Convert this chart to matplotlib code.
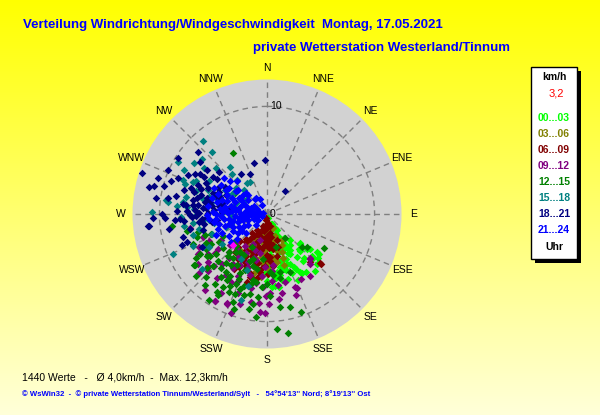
import matplotlib.pyplot as plt
import numpy as np
from matplotlib.patches import Rectangle

# wind points per hour block: (direction in degrees, speed in km/h)
h00_03 = [(151, 1.5), (153, 2.4), (149, 3.6), (132, 4.1), (131, 4.9), (128, 6.1), (133, 5.7),
          (150, 4.3), (160, 4.4), (168, 4.4), (176, 3.8), (168, 3.0), (180, 3.2), (145, 4.9),
          (153, 5.5), (150, 6.2), (161, 5.5), (166, 5.1), (155, 5.1), (170, 5.5), (182, 5.5),
          (176, 6.8), (174, 6.7), (167, 6.3), (186, 4.5), (163, 3.7), (156, 3.7), (139, 3.2),
          (172, 2.0), (153, 1.0), (170, 0.4), (131, 4.1), (131, 6.3), (149, 6.4), (151, 4.1),
          (163, 5.3), (171, 6.9), (134, 5.9), (147, 4.0), (158, 3.3), (160, 1.0), (175, 1.2),
          (145, 2.7), (140, 5.3), (157, 6.0), (165, 2.2), (138, 4.6), (178, 4.8),
          (144, 3.6), (137, 4.4), (142, 5.5), (135, 6.6), (146, 6.5), (152, 5.8), (158, 5.0),
          (163, 4.6), (170, 4.4), (174, 3.4), (160, 2.6), (155, 2.0), (148, 1.8), (165, 1.5),
          (178, 2.4), (129, 5.2), (127, 5.8), (140, 6.9), (155, 6.8), (162, 6.4), (168, 5.8),
          (180, 6.2), (172, 6.0), (150, 3.1), (157, 4.5)]
h03_06 = [(170, 1.4), (160, 2.2), (175, 3.0), (185, 3.6), (195, 4.2), (200, 2.6), (180, 4.6),
          (165, 3.6), (157, 1.4), (158, 3.8), (186, 4.6), (205, 4.9), (190, 2.0), (210, 3.4),
          (178, 5.2), (168, 4.6), (150, 2.8), (192, 5.6), (215, 4.2), (183, 1.0), (198, 3.2),
          (172, 4.0), (188, 2.7), (162, 5.0),
          (175, 1.8), (196, 2.4), (182, 3.3), (204, 3.8), (170, 4.2), (188, 4.0), (165, 2.6),
          (178, 2.4), (212, 4.7), (160, 4.4), (200, 5.3), (185, 5.9), (155, 3.2), (207, 2.9),
          (193, 4.8)]
h06_09 = [(185, 1.0), (190, 1.6), (195, 2.2), (200, 2.8), (205, 3.3), (210, 3.9), (180, 2.0),
          (175, 2.6), (185, 3.0), (195, 3.6), (200, 4.2), (190, 4.6), (205, 4.9), (215, 4.4),
          (210, 2.4), (220, 3.0), (180, 3.8), (170, 3.3), (172, 1.8), (165, 1.2), (198, 1.2),
          (212, 1.8), (188, 5.3), (196, 5.7), (182, 4.8), (208, 5.6), (176, 4.4), (160, 2.6),
          (225, 3.6), (218, 2.2), (133, 6.8), (138, 6.0), (176, 4.0), (187, 5.4), (195, 6.1),
          (188, 5.9), (196, 6.6), (133, 6.7), (192, 0.6), (203, 1.9), (178, 1.3), (186, 2.4),
          (193, 3.1), (202, 3.7), (183, 4.2), (213, 5.0), (168, 2.9), (221, 4.1),
          (188, 0.4), (175, 0.8), (194, 1.4), (207, 2.1), (180, 2.7), (170, 2.2), (200, 3.4),
          (189, 3.4), (176, 3.2), (217, 3.3), (207, 4.4), (194, 4.8), (185, 5.0), (179, 5.6),
          (202, 5.2), (220, 4.6), (166, 4.0), (162, 3.2), (214, 2.8), (229, 4.0), (197, 3.9),
          (183, 2.2), (173, 4.9), (211, 6.0), (192, 6.2)]
h09_12 = [(240, 7.3), (231, 7.1), (226, 6.9), (211, 9.4), (204, 9.2), (184, 9.1), (179, 8.4),
          (185, 8.3), (159, 7.3), (160, 8.0), (136, 5.8), (139, 6.1), (176, 6.2), (171, 6.7),
          (178, 7.3), (208, 5.4), (201, 4.8), (214, 5.6), (193, 4.4), (205, 6.4), (196, 5.9),
          (182, 4.9), (173, 4.8), (240, 7.4), (229, 7.3), (229, 8.4), (211, 9.4), (204, 9.1),
          (197, 8.7), (181, 9.2), (169, 7.5), (158, 7.4), (136, 5.7), (175, 5.3), (260, 7.3),
          (195, 2.5), (205, 3.1), (215, 3.6), (220, 4.3), (210, 4.8), (200, 5.2), (190, 3.7),
          (225, 5.0), (230, 4.5), (235, 5.6), (185, 5.8), (212, 5.9), (222, 6.3), (245, 5.9),
          (240, 4.9), (218, 7.6), (192, 7.0), (200, 7.8), (233, 6.0),
          (203, 6.8), (214, 6.8), (226, 7.6), (236, 6.6), (244, 7.0), (250, 6.3), (221, 5.4),
          (208, 4.1), (196, 4.3), (189, 6.5), (181, 7.6), (172, 8.0), (165, 6.5), (152, 6.8),
          (145, 7.0), (199, 3.5), (214, 4.8), (227, 4.0), (234, 7.9), (210, 8.5), (219, 9.1),
          (190, 8.3), (183, 6.8), (208, 7.2), (200, 9.8)]
h12_15 = [(235, 8.2), (224, 8.1), (217, 8.1), (221, 8.8), (211, 7.9), (211, 8.8), (202, 8.0),
          (200, 7.4), (192, 7.6), (186, 7.8), (199, 9.3), (191, 9.0), (175, 10.7), (170, 11.2),
          (177, 5.4), (192, 6.3), (211, 6.7), (220, 6.6), (204, 7.1), (198, 7.0), (211, 7.2),
          (215, 5.8), (223, 5.3), (232, 5.2), (224, 4.1), (239, 7.3), (234, 6.6), (201, 5.6),
          (189, 6.4), (180, 6.5), (174, 5.7), (167, 5.5), (143, 2.8), (158, 5.8), (161, 9.6),
          (121, 6.2), (133, 4.5), (130, 4.8), (164, 3.2), (169, 6.1), (201, 8.8), (206, 8.1),
          (216, 7.2), (331, 6.5), (303, 3.6), (263, 8.9), (252, 6.8), (235, 8.3),
          (205, 3.4), (215, 4.3), (200, 4.6), (225, 5.0), (210, 5.5), (195, 5.0), (230, 4.0),
          (220, 6.0), (240, 5.2), (245, 6.3), (235, 6.8), (250, 5.5), (228, 7.5), (215, 6.6),
          (205, 6.0), (190, 5.2), (185, 4.2), (255, 6.6), (240, 6.5), (218, 5.2),
          (207, 7.5), (196, 7.8), (189, 8.5), (213, 8.6), (226, 6.3), (232, 6.0), (242, 5.9),
          (248, 7.4), (238, 7.8), (229, 8.8), (203, 6.6), (193, 6.7), (184, 6.8), (178, 7.6),
          (172, 8.7), (166, 8.9), (186, 9.6), (209, 4.4), (219, 4.6), (197, 4.4), (226, 7.0),
          (244, 4.6), (251, 6.1), (258, 7.6), (214, 9.6)]
h15_18 = [(319, 9.0), (318, 7.7), (305, 8.3), (298, 8.7), (319, 4.9), (318, 4.2), (327, 3.4),
          (332, 3.4), (292, 8.4), (290, 8.1), (293, 7.5), (292, 5.9), (287, 4.9), (300, 4.5),
          (296, 4.0), (302, 3.7), (278, 9.5), (275, 8.4), (277, 9.3), (271, 10.7), (278, 7.9),
          (275, 7.5), (271, 4.2), (264, 5.4), (263, 6.9), (265, 6.0), (254, 7.2), (296, 3.7),
          (289, 3.0), (304, 2.3), (257, 2.6), (252, 4.0), (247, 7.5), (243, 6.7), (195, 6.9),
          (197, 8.4), (247, 9.5), (200, 5.5), (210, 4.8), (260, 5.0), (255, 3.5), (285, 3.2),
          (300, 2.5), (310, 3.8), (284, 6.2), (270, 6.5), (281, 5.3),
          (312, 6.4), (306, 7.2), (300, 6.2), (295, 7.3), (288, 6.9), (282, 7.7), (286, 5.6),
          (292, 4.8), (280, 4.4), (274, 6.8), (268, 8.0), (262, 7.8), (258, 6.5), (300, 9.6),
          (310, 7.9), (322, 5.6), (316, 3.1), (276, 3.9), (266, 3.3), (250, 5.4), (240, 6.2),
          (230, 7.9), (236, 5.0)]
h18_21 = [(302, 9.8), (308, 7.9), (346, 4.9), (358, 5.0), (301, 7.3), (288, 10.7), (289, 9.4),
          (297, 6.4), (305, 5.7), (327, 4.4), (337, 4.0), (284, 10.8), (293, 7.0), (289, 7.5),
          (278, 10.4), (279, 9.3), (277, 7.9), (286, 6.4), (285, 5.8), (291, 5.4), (295, 4.9),
          (268, 10.6), (268, 9.5), (266, 8.6), (264, 11.0), (267, 8.1), (265, 7.7), (272, 7.4),
          (273, 6.7), (268, 6.6), (266, 6.1), (261, 5.9), (271, 5.5), (263, 4.7), (278, 5.2),
          (284, 4.2), (255, 8.1), (251, 7.9), (256, 6.1), (277, 6.9), (281, 7.0), (277, 6.5),
          (275, 6.0), (282, 5.4), (274, 4.9), (271, 6.3), (269, 7.2), (267, 5.6), (288, 4.8),
          (295, 4.2), (281, 3.5), (273, 4.2), (262, 5.2), (281, 5.9), (39, 2.7), (288, 12.2),
          (264, 11.1), (250, 8.4), (243, 6.8),
          (296, 8.2), (300, 6.8), (304, 6.1), (292, 8.9), (285, 9.9), (281, 8.6), (287, 7.1),
          (294, 6.0), (298, 5.2), (290, 4.6), (283, 6.7), (276, 7.6), (272, 8.4), (268, 7.0),
          (263, 6.4), (259, 7.3), (286, 8.0), (291, 6.6), (279, 4.5), (276, 5.7), (299, 7.6),
          (306, 6.9), (311, 5.9), (312, 8.6), (283, 11.3), (270, 9.8), (261, 9.2), (294, 10.1),
          (303, 4.6), (289, 5.2)]
h21_24 = [(270, 0.6), (275, 1.2), (265, 1.5), (280, 1.9), (260, 2.1), (285, 2.6), (270, 2.4),
          (255, 2.8), (290, 3.2), (275, 3.3), (262, 3.6), (250, 3.4), (280, 4.0), (268, 4.3),
          (295, 4.1), (300, 3.0), (305, 2.2), (290, 1.6), (250, 1.3), (240, 2.0), (245, 2.9),
          (258, 4.6), (272, 5.0), (283, 4.8), (265, 5.4), (278, 5.5), (292, 4.9), (300, 4.4),
          (310, 3.5), (315, 2.7), (235, 2.8), (230, 3.6), (240, 4.1), (248, 5.1), (260, 0.9),
          (285, 0.8), (300, 1.4), (320, 1.8), (330, 1.0), (250, 0.5), (225, 1.5), (232, 4.3),
          (275, 3.7), (288, 3.9), (266, 3.0), (278, 2.7), (256, 2.3), (293, 2.3), (306, 3.6),
          (263, 4.0), (286, 5.3), (302, 5.0), (270, 4.7), (254, 4.1), (244, 3.5), (296, 1.0),
          (238, 1.0), (318, 4.1), (310, 5.2), (282, 0.4), (325, 1.8), (335, 1.5), (315, 2.5),
          (268, 1.8), (273, 2.1), (262, 2.6), (277, 2.9), (283, 3.4), (258, 3.2), (271, 3.6),
          (287, 4.4), (264, 4.8), (276, 4.4), (253, 4.8), (247, 4.5), (294, 3.6), (298, 2.7),
          (308, 2.8), (312, 4.6), (281, 1.5), (289, 2.0), (252, 1.9), (243, 2.4), (236, 3.2),
          (228, 2.6), (261, 5.0), (269, 5.6), (296, 5.5), (304, 4.3), (280, 3.1), (266, 2.2),
          (274, 4.1), (255, 3.7)]
latest = [(228, 4.3)]

hour_labels = ['00...03', '03...06', '06...09', '09...12', '12...15', '15...18', '18...21', '21...24']
hour_colors = ['#00ff00', '#808000', '#800000', '#800080', '#008000', '#008080', '#000080', '#0000ff']
groups = [h00_03, h03_06, h06_09, h09_12, h12_15, h15_18, h18_21, h21_24]
directions = ['N', 'NNE', 'NE', 'ENE', 'E', 'ESE', 'SE', 'SSE',
              'S', 'SSW', 'SW', 'WSW', 'W', 'WNW', 'NW', 'NNW']
current_speed = '3,2'
rmax = 12.5

plt.rcParams['font.family'] = ['Liberation Sans', 'DejaVu Sans']

W, H = 600, 415
fig = plt.figure(figsize=(6, 4.15), dpi=100)

def fx(px):
    return px / W

def fy(py):
    return 1 - py / H

# yellow background, paler towards the bottom
bg = fig.add_axes([0, 0, 1, 1], zorder=-10)
grad = np.ones((200, 1, 3))
grad[:, 0, 2] = np.linspace(0.0, 0.85, 200)
bg.imshow(grad, aspect='auto', extent=[0, 1, 0, 1])
bg.set_axis_off()

cx, cy, rad = 267, 214, 134.5
ax = fig.add_axes([fx(cx - rad), fy(cy + rad), 2 * rad / W, 2 * rad / H], projection='polar')
ax.set_theta_zero_location('N')
ax.set_theta_direction(-1)
ax.set_ylim(0, rmax)
ax.set_facecolor('#d2d2d2')
ax.spines['polar'].set_visible(False)
ax.set_xticks(np.deg2rad(np.arange(16) * 22.5))
ax.set_xticklabels([])
ax.set_yticks([10])
ax.set_yticklabels([])
ax.tick_params(length=0)
ax.grid(True, color='#7f7f7f', lw=1, ls=(0, (4, 3)))
ax.set_axisbelow(True)

for i, name in enumerate(directions):
    ax.text(np.deg2rad(i * 22.5), 13.6, name, ha='center', va='center', fontsize=7.5)
ax.annotate('10', (0, 10), xytext=(2, 0), textcoords='offset points',
            ha='left', va='center', fontsize=7.5)
ax.annotate('0', (0, 0), xytext=(2, 0), textcoords='offset points',
            ha='left', va='center', fontsize=7.5, zorder=5)

for pts, col in zip(groups, hour_colors):
    d = np.deg2rad([p[0] for p in pts])
    s = [p[1] for p in pts]
    ax.scatter(d, s, marker='D', s=15, c=col, linewidths=0, zorder=3)
ax.scatter(np.deg2rad([p[0] for p in latest]), [p[1] for p in latest],
           marker='D', s=15, c='#ff00ff', linewidths=0, zorder=4)

# titles
fig.text(fx(23), fy(25), 'Verteilung Windrichtung/Windgeschwindigkeit  Montag, 17.05.2021',
         color='#0000ff', fontsize=9.5, fontweight='bold', va='center')
fig.text(fx(510), fy(48), 'private Wetterstation Westerland/Tinnum',
         color='#0000ff', fontsize=9.5, fontweight='bold', va='center', ha='right')
fig.text(fx(22), fy(377), '1440 Werte   -   Ø 4,0km/h  -  Max. 12,3km/h',
         color='black', fontsize=7.5, va='center')
fig.text(fx(22), fy(394),
         "© WsWin32  -  © private Wetterstation Tinnum/Westerland/Sylt   -   54°54'13'' Nord; 8°19'13'' Ost",
         color='#0000ff', fontsize=5.6, fontweight='bold', va='center')

# legend box with shadow
bx0, by0, bx1, by1 = 531, 67, 577, 259
fig.add_artist(Rectangle((fx(bx0 + 4), fy(by1 + 4)), (bx1 - bx0) / W, (by1 - by0) / H,
                         transform=fig.transFigure, facecolor='black', edgecolor='none'))
fig.add_artist(Rectangle((fx(bx0), fy(by1)), (bx1 - bx0) / W, (by1 - by0) / H,
                         transform=fig.transFigure, facecolor='white', edgecolor='black', lw=1))
lx = fx((bx0 + bx1) / 2)
fig.text(lx, fy(77), 'km/h', ha='center', va='center', fontsize=7.5, fontweight='bold')
fig.text(lx + 0.004, fy(94), current_speed, ha='center', va='center', fontsize=8, color='#ff0000')
for i, (lab, col) in enumerate(zip(hour_labels, hour_colors)):
    fig.text(lx, fy(118 + i * 16), lab, ha='center', va='center', fontsize=7.5,
             fontweight='bold', color=col)
fig.text(lx, fy(247), 'Uhr', ha='center', va='center', fontsize=7.5, fontweight='bold')

fig.savefig('out.png', dpi=100)
